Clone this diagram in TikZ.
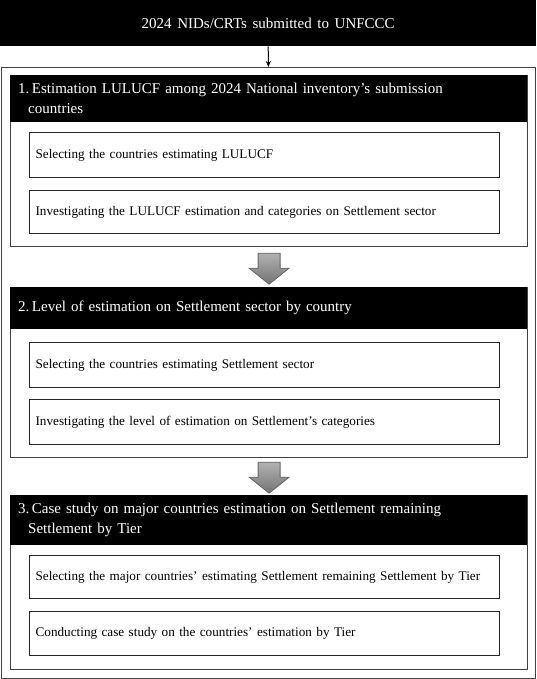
\documentclass[tikz,border=0pt]{standalone}
\usepackage{fontspec}
\setmainfont{Liberation Serif}[WordSpace=1.5]
\usetikzlibrary{arrows.meta}
\begin{document}
\begin{tikzpicture}[x=1pt,y=-1pt,
  topbox/.style={fill=black,text=white,inner sep=0pt,anchor=north west,
    minimum width=536pt,minimum height=46pt,font=\fontsize{15}{18}\selectfont},
  framebox/.style={draw=black!75,line width=1.2pt,anchor=north west,inner sep=0pt},
  secbox/.style={draw=black!75,line width=1.2pt,anchor=north west,inner sep=0pt,minimum width=517pt},
  sechead/.style={fill=black,text=white,anchor=north west,inner xsep=8pt,inner ysep=0pt,
    minimum width=517pt,text width=501pt,align=left,font=\fontsize{15}{20}\selectfont},
  subbox/.style={draw=black!85,line width=1.2pt,anchor=north west,inner xsep=6pt,inner ysep=0pt,
    minimum width=470pt,text width=458pt,align=left,font=\fontsize{13.2}{15}\selectfont},
  blockarrow/.style={draw=black!60,line width=0.8pt,top color=black!30,bottom color=black!55}
]
\useasboundingbox (0,0) rectangle (536,679);
\node[topbox] (top) at (0,0) {2024 NIDs/CRTs submitted to UNFCCC};
\node[framebox,minimum width=534pt,minimum height=611pt] (frame) at (0.8,67) {};
\draw[-{Stealth[length=6pt,width=5pt]},line width=1pt] (top.south) -- (frame.north);

% Section 1
\node[secbox,minimum height=171pt] (s1) at (10,75) {};
\node[sechead,minimum height=47pt] (h1) at (10,75) {1.\,Estimation LULUCF among 2024 National inventory's submission\\\hspace*{10pt}countries};
\node[subbox,minimum height=45pt] (b11) at (29,132) {Selecting the countries estimating LULUCF};
\node[subbox,minimum height=43pt] (b12) at (29,190) {Investigating the LULUCF estimation and categories on Settlement sector};

% Section 2
\node[secbox,minimum height=170pt] (s2) at (10,287) {};
\node[sechead,minimum height=42pt] (h2) at (10,287) {2.\,Level of estimation on Settlement sector by country};
\node[subbox,minimum height=45pt] (b21) at (29,342) {Selecting the countries estimating Settlement sector};
\node[subbox,minimum height=45pt] (b22) at (29,399) {Investigating the level of estimation on Settlement's categories};

% Section 3
\node[secbox,minimum height=174pt] (s3) at (10,495) {};
\node[sechead,minimum height=50pt] (h3) at (10,495) {3.\,Case study on major countries estimation on Settlement remaining\\\hspace*{10pt}Settlement by Tier};
\node[subbox,minimum height=43pt] (b31) at (29,555) {Selecting the major countries' estimating Settlement remaining Settlement by Tier};
\node[subbox,minimum height=44pt] (b32) at (29,611) {Conducting case study on the countries' estimation by Tier};

% block arrows
\coordinate (a1) at ([yshift=-6pt]s1.south);
\coordinate (a2) at ([yshift=-4pt]s2.south);
\draw[blockarrow,shift={(a1)}] (-11,0) -- (11,0) -- (11,15) -- (20,15) -- (0,31) -- (-20,15) -- (-11,15) -- cycle;
\draw[blockarrow,shift={(a2)}] (-11,0) -- (11,0) -- (11,15) -- (20,15) -- (0,31) -- (-20,15) -- (-11,15) -- cycle;
\end{tikzpicture}
\end{document}
